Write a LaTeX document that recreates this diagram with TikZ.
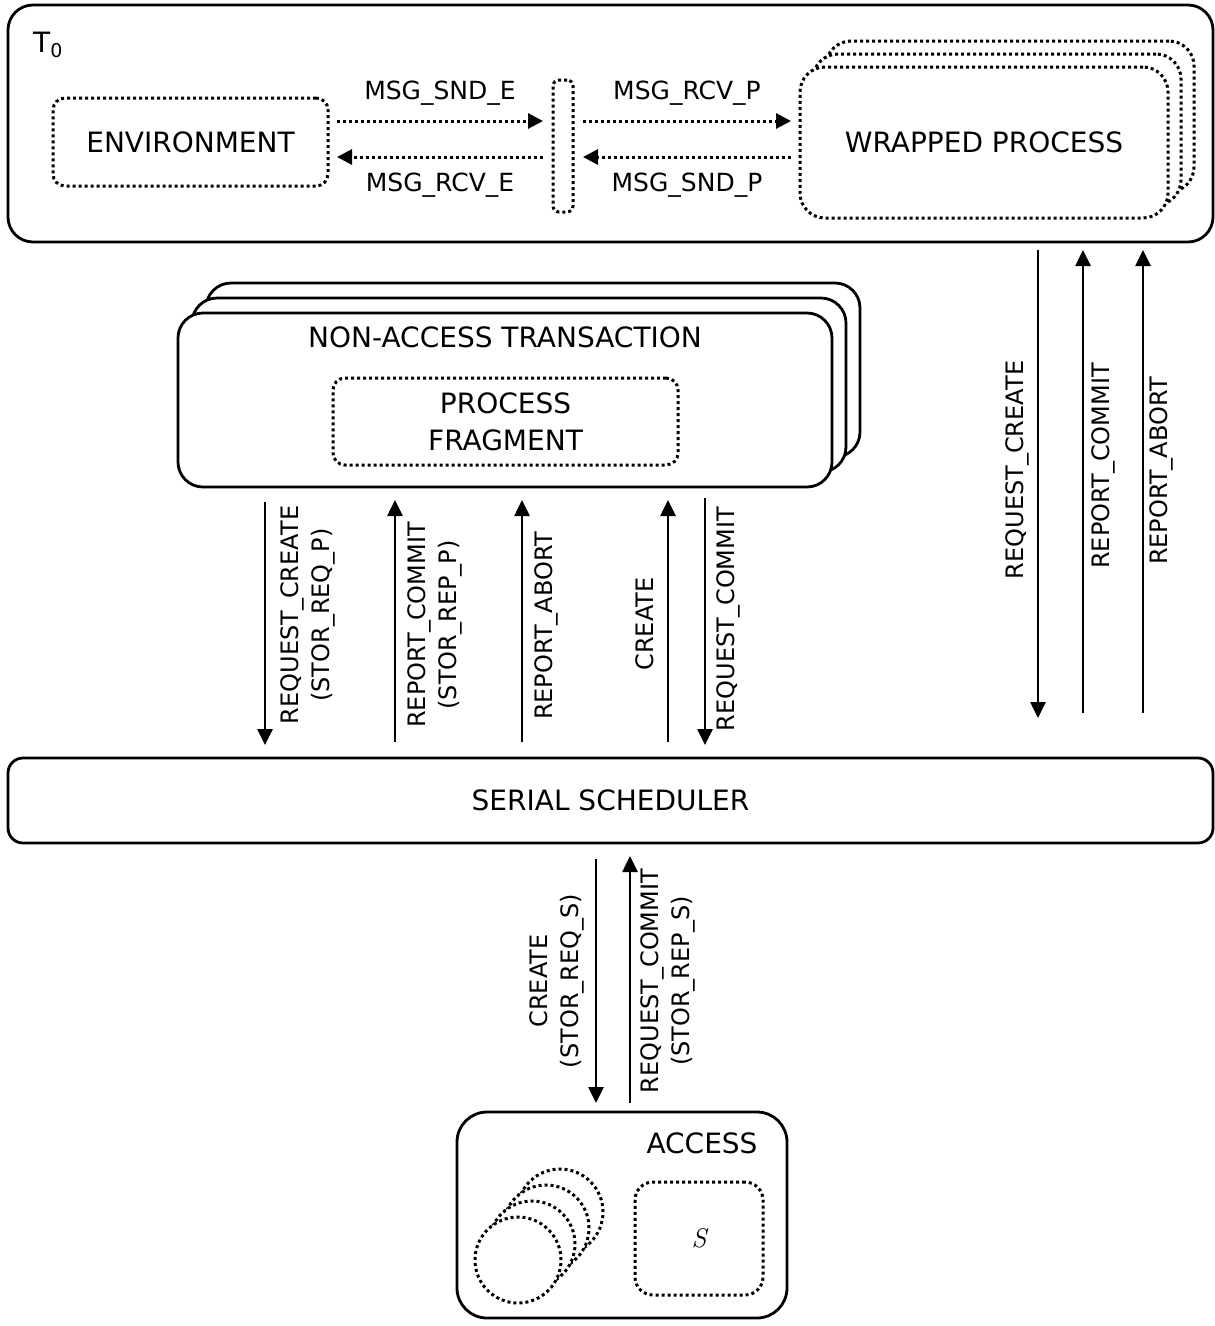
\documentclass[tikz,border=0pt]{standalone}
\usepackage{fontspec}
\setmainfont{DejaVu Sans}
\newfontfamily\lmserif{Latin Modern Roman}
\usetikzlibrary{arrows.meta,calc}
\begin{document}
\begin{tikzpicture}[x=1pt,y=-1pt,
  box/.style={draw,line width=2.8pt,rounded corners=#1,inner sep=0pt,outer sep=0pt,fill=white},
  box/.default=25pt,
  dbox/.style={box=#1,line width=3pt,dash pattern=on 3pt off 3pt},
  dbox/.default=12pt,
  big/.style={font=\fontsize{28}{37}\selectfont,align=center},
  lbl/.style={font=\fontsize{24}{31}\selectfont,align=center,inner sep=0pt},
  mlbl/.style={font=\fontsize{25}{31}\selectfont,align=center,inner sep=0pt},
  vlbl/.style={lbl,rotate=90},
  arr/.style={line width=2.6pt,-{Triangle[length=16pt,width=15pt]}},
  darr/.style={line width=3pt,dash pattern=on 3pt off 3pt,-{Triangle[length=15pt,width=15pt]}},
]
\useasboundingbox (0,0) rectangle (1215,1326);
\fill[white] (0,0) rectangle (1215,1326);

% ---- top-level transaction T0 ----
\node[box=25pt,minimum width=1205pt,minimum height=237pt] (t0) at (610.5,123.5) {};
\node[big,anchor=base west,inner sep=0pt] (t0lbl) at (33,52)
  {T\raisebox{-5pt}{\fontsize{19}{19}\selectfont 0}};

\node[dbox,minimum width=275pt,minimum height=88pt,big] (env) at (190.5,142) {ENVIRONMENT};
\node[dbox=6pt,minimum width=20pt,minimum height=132pt] (bar) at (563,146) {};

% wrapped process stack (back to front)
\node[dbox=25pt,minimum width=368pt,minimum height=151pt] (wp3) at (1010,116.5) {};
\node[dbox=25pt,minimum width=368pt,minimum height=151pt] (wp2) at (997,129.5) {};
\node[dbox=25pt,minimum width=368pt,minimum height=151pt,big] (wp) at (984,142.5) {WRAPPED PROCESS};

\coordinate (rowA) at (0,121);
\coordinate (rowB) at (0,157);
\draw[darr] ([xshift=9pt]env.east |- rowA) -- ([xshift=-10pt]bar.west |- rowA)
  node[mlbl,midway,above=14pt] (l1) {MSG\_SND\_E};
\draw[darr] ([xshift=-10pt]bar.west |- rowB) -- ([xshift=9pt]env.east |- rowB)
  node[mlbl,midway,below=14pt] (l2) {MSG\_RCV\_E};
\draw[darr] ([xshift=10pt]bar.east |- rowA) -- ([xshift=-9pt]wp.west |- rowA)
  node[mlbl,midway,above=14pt] (l3) {MSG\_RCV\_P};
\draw[darr] ([xshift=-9pt]wp.west |- rowB) -- ([xshift=10pt]bar.east |- rowB)
  node[mlbl,midway,below=14pt] (l4) {MSG\_SND\_P};

% ---- non-access transaction stack ----
\node[box=25pt,minimum width=654pt,minimum height=174pt] (nat3) at (533,370) {};
\node[box=25pt,minimum width=654pt,minimum height=174pt] (nat2) at (519,385) {};
\node[box=25pt,minimum width=654pt,minimum height=174pt] (nat) at (505,400) {};
\node[big] (natlbl) at (505,337) {NON-ACCESS TRANSACTION};
\node[dbox,minimum width=345pt,minimum height=87pt,big] (pf) at (505.5,421.5) {PROCESS\\FRAGMENT};

% ---- serial scheduler ----
\node[box=15pt,minimum width=1205pt,minimum height=85pt,big] (sch) at (610.5,800.5) {SERIAL SCHEDULER};

% ---- access ----
\node[box=30pt,minimum width=330pt,minimum height=206pt] (acc) at (622,1215) {};
\node[big] (acclbl) at (702,1143) {ACCESS};
\node[dbox=18pt,minimum width=128pt,minimum height=113pt] (sbox) at (699,1238.5) {};
\node[font=\lmserif\itshape\fontsize{27}{30}\selectfont] (slbl) at (sbox.center) {S};
\node[dbox,circle,minimum size=86pt] (c4) at (560,1212) {};
\node[dbox,circle,minimum size=86pt] (c3) at (546,1228) {};
\node[dbox,circle,minimum size=86pt] (c2) at (532,1244) {};
\node[dbox,circle,minimum size=86pt] (c1) at (518,1260) {};

% ---- transaction <-> scheduler ----
\coordinate (xa) at (265,0);
\coordinate (xb) at (395,0);
\coordinate (xc) at (522,0);
\coordinate (xd) at (668,0);
\coordinate (xe) at (705,0);
\draw[arr] ([yshift=-15pt]xa |- nat.south) -- ([yshift=13pt]xa |- sch.north);
\draw[arr] ([yshift=16pt]xb |- sch.north) -- ([yshift=-13pt]xb |- nat.south);
\draw[arr] ([yshift=16pt]xc |- sch.north) -- ([yshift=-13pt]xc |- nat.south);
\draw[arr] ([yshift=16pt]xd |- sch.north) -- ([yshift=-13pt]xd |- nat.south);
\draw[arr] ([yshift=-11pt]xe |- nat.south) -- ([yshift=13pt]xe |- sch.north);
\node[vlbl] (m1) at (308,615) {REQUEST\_CREATE\\(STOR\_REQ\_P)};
\node[vlbl] (m2) at (435,625) {REPORT\_COMMIT\\(STOR\_REP\_P)};
\node[vlbl] (m3) at (546,626) {REPORT\_ABORT};
\node[vlbl] (m4) at (645,624) {CREATE};
\node[vlbl] (m5) at (728,619) {REQUEST\_COMMIT};

% ---- T0 <-> scheduler ----
\coordinate (xf) at (1038,0);
\coordinate (xg) at (1083,0);
\coordinate (xh) at (1143,0);
\draw[arr] ([yshift=-8pt]xf |- t0.south) -- ([yshift=40pt]xf |- sch.north);
\draw[arr] ([yshift=45pt]xg |- sch.north) -- ([yshift=-8pt]xg |- t0.south);
\draw[arr] ([yshift=45pt]xh |- sch.north) -- ([yshift=-8pt]xh |- t0.south);
\node[vlbl] (r1) at (1017,470) {REQUEST\_CREATE};
\node[vlbl] (r2) at (1103,466) {REPORT\_COMMIT};
\node[vlbl] (r3) at (1161,471) {REPORT\_ABORT};

% ---- scheduler <-> access ----
\coordinate (xi) at (596,0);
\coordinate (xj) at (630,0);
\draw[arr] ([yshift=-16pt]xi |- sch.south) -- ([yshift=9pt]xi |- acc.north);
\draw[arr] ([yshift=9pt]xj |- acc.north) -- ([yshift=-13pt]xj |- sch.south);
\node[vlbl] (b1) at (557,981) {CREATE\\(STOR\_REQ\_S)};
\node[vlbl] (b2) at (668,981) {REQUEST\_COMMIT\\(STOR\_REP\_S)};
\end{tikzpicture}
\end{document}
